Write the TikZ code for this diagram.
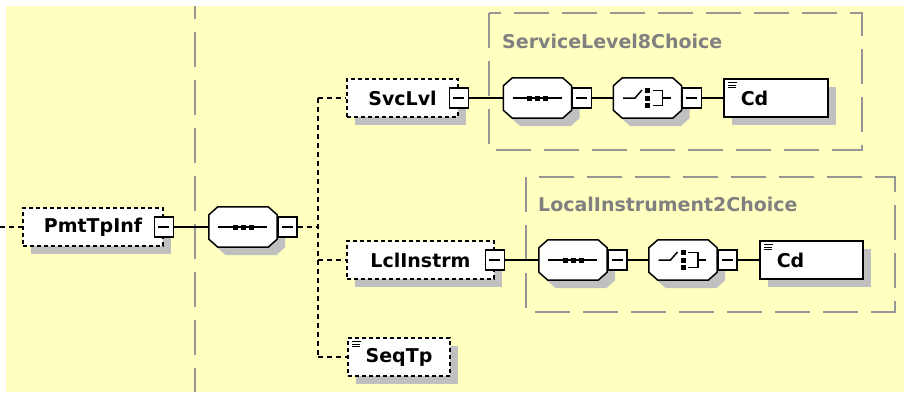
\documentclass[tikz,border=0pt]{standalone}
\usepackage{fontspec}
\setmainfont{DejaVu Sans}
\usetikzlibrary{shadows}
\definecolor{bgyellow}{RGB}{255,255,192}
\definecolor{boxgray}{RGB}{150,150,150}
\definecolor{labgray}{RGB}{128,128,128}
\definecolor{shgray}{RGB}{192,192,192}
\newcommand\xfont{\bfseries\fontsize{19}{22}\selectfont}
\newcommand\octo[1]{%
  \draw[line width=1.5pt,fill=white,shad]
    ([xshift=9pt]#1.north west) -- ([xshift=-9pt]#1.north east) --
    ([yshift=-8pt]#1.north east) -- ([yshift=8pt]#1.south east) --
    ([xshift=-9pt]#1.south east) -- ([xshift=9pt]#1.south west) --
    ([yshift=8pt]#1.south west) -- ([yshift=-8pt]#1.north west) -- cycle;}
\newcommand\seqsym[1]{%
  \draw[line width=1.5pt] ([xshift=-25pt]#1.center) -- ([xshift=24pt]#1.center);
  \foreach \d in {-8pt,0pt,8pt}
    \fill ([shift={(\d-2.5pt,-2.5pt)}]#1.center) rectangle ++(5pt,5pt);}
\newcommand\chsym[1]{%
  \draw[line width=1.5pt] ([shift={(-24.5pt,0pt)}]#1.center) -- ([shift={(-12.5pt,0pt)}]#1.center) -- ([shift={(-5.5pt,8pt)}]#1.center);
  \foreach \d in {-7.5pt,0pt,7.5pt}
    \fill ([shift={(-2.5pt,\d-2.5pt)}]#1.center) rectangle ++(5pt,5pt);
  \draw[line width=1.5pt] ([shift={(5pt,7.5pt)}]#1.center) -- ++(10pt,0pt) -- ++(0pt,-15pt) -- ++(-10pt,0pt);
  \draw[line width=1.5pt] ([shift={(15pt,0pt)}]#1.center) -- ++(8pt,0pt);}
\tikzset{
  shad/.style={drop shadow={shadow xshift=8pt,shadow yshift=-8pt,fill=shgray,opacity=1}},
  elem/.style={draw,dash pattern=on 4pt off 3pt,line width=1.5pt,fill=white,shad,
    font=\xfont,inner sep=0pt,minimum height=38pt},
  cdbox/.style={draw,line width=1.5pt,fill=white,shad,font=\xfont,inner ysep=0pt,
    inner xsep=17pt,align=left,minimum height=38pt,icon},
  icon/.style={path picture={
    \draw[solid,line width=1pt] ([shift={(4pt,-3.5pt)}]path picture bounding box.north west) -- ++(9pt,0pt);
    \draw[solid,line width=1pt] ([shift={(4pt,-6.2pt)}]path picture bounding box.north west) -- ++(8pt,0pt);
    \draw[solid,line width=1pt] ([shift={(4pt,-8.9pt)}]path picture bounding box.north west) -- ++(8pt,0pt);}},
  minus/.style={draw,fill=white,line width=1.5pt,minimum width=19pt,minimum height=20pt,inner sep=0pt,
    path picture={\draw[solid,line width=1.3pt] ([xshift=4pt]path picture bounding box.west) -- ([xshift=-4pt]path picture bounding box.east);}},
  compo/.style={minimum width=68pt,minimum height=40pt,inner sep=0pt},
  conn/.style={line width=1.5pt},
  conndash/.style={line width=1.5pt,dash pattern=on 5pt off 4pt},
  grayline/.style={draw=boxgray,line width=2pt,dash pattern=on 35pt off 13pt},
  grouplab/.style={anchor=west,text=labgray,font=\xfont,inner sep=0pt}
}
\begin{document}
\begin{tikzpicture}[x=1pt,y=-1pt]
\useasboundingbox (0,0) rectangle (904,392);
\fill[bgyellow] (6,6) rectangle (904,392);
% group outlines
\draw[grayline,dash phase=22pt] (195,6) -- (195,392);
\draw[grayline] (489,13) rectangle (862,150);
\draw[grayline] (526,177) rectangle (895,312);
\node[grouplab] (lab1) at (502,41) {ServiceLevel8Choice};
\node[grouplab] (lab2) at (538,204) {LocalInstrument2Choice};
% root element
\node[elem,minimum width=140pt] (pmt) at (93,227) {PmtTpInf};
\node[minus] (mpmt) at (pmt.east) {};
\node[compo] (seqa) at (243,227) {};
\octo{seqa}\seqsym{seqa}
\node[minus,anchor=west] (mseqa) at (seqa.east) {};
% children
\node[elem,minimum width=111pt] (svc) at (402.5,98) {SvcLvl};
\node[minus] (msvc) at (svc.east) {};
\node[elem,minimum width=147pt] (lcl) at (420.5,260) {LclInstrm};
\node[minus] (mlcl) at (lcl.east) {};
\node[elem,minimum width=102pt,icon] (seqtp) at (399,357) {SeqTp};
% SvcLvl content
\node[compo] (seqb) at (537.5,98) {};
\octo{seqb}\seqsym{seqb}
\node[minus,anchor=west] (mseqb) at (seqb.east) {};
\node[compo] (chb) at (647.5,98) {};
\octo{chb}\chsym{chb}
\node[minus,anchor=west] (mchb) at (chb.east) {};
\node[cdbox,text width=70pt,anchor=west] (cdb) at (723,98) {Cd};
% LclInstrm content
\node[compo] (seqc) at (573,260) {};
\octo{seqc}\seqsym{seqc}
\node[minus,anchor=west] (mseqc) at (seqc.east) {};
\node[compo] (chc) at (683,260) {};
\octo{chc}\chsym{chc}
\node[minus,anchor=west] (mchc) at (chc.east) {};
\node[cdbox,text width=69pt,anchor=west] (cdc) at (759,260) {Cd};
% connectors
\coordinate (inleft) at (0,227);
\coordinate (bus) at (318,227);
\draw[conndash] (inleft) -- (pmt.west);
\draw[conn] (mpmt.east) -- (seqa.west);
\draw[conndash] (mseqa.east) -- (bus);
\draw[conndash] (svc.west -| bus) -- (seqtp.west -| bus);
\draw[conndash] (svc.west -| bus) -- (svc.west);
\draw[conndash] (lcl.west -| bus) -- (lcl.west);
\draw[conndash] (seqtp.west -| bus) -- (seqtp.west);
\draw[conn] (msvc.east) -- (seqb.west);
\draw[conn] (mseqb.east) -- (chb.west);
\draw[conn] (mchb.east) -- (cdb.west);
\draw[conn] (mlcl.east) -- (seqc.west);
\draw[conn] (mseqc.east) -- (chc.west);
\draw[conn] (mchc.east) -- (cdc.west);
\end{tikzpicture}
\end{document}
